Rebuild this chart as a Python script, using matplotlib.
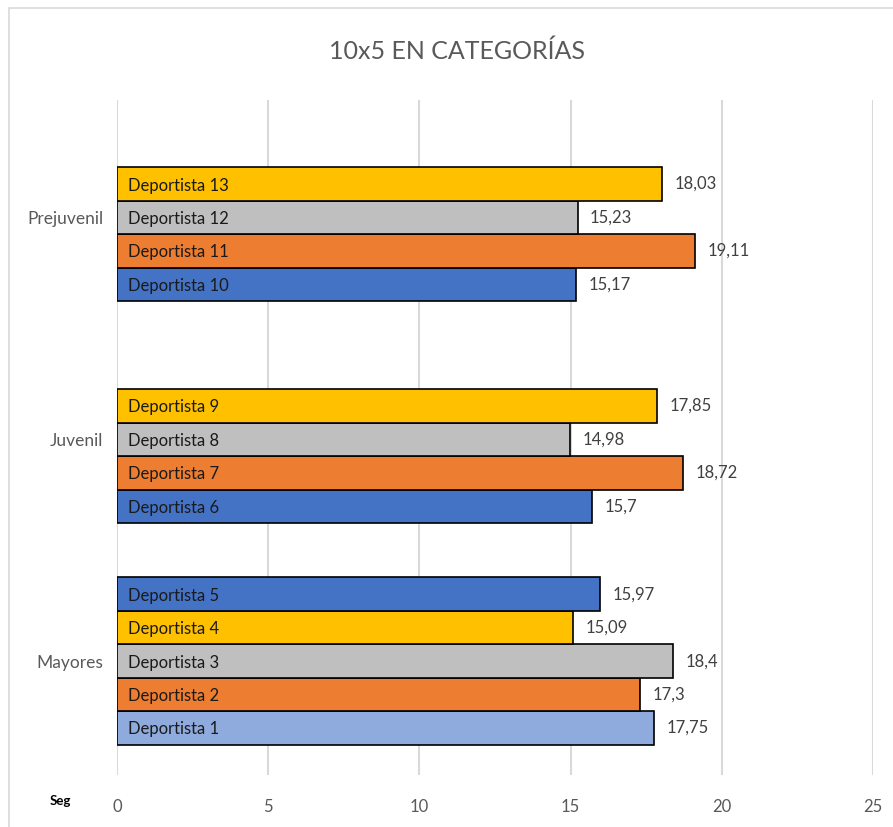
import matplotlib
matplotlib.use("Agg")
import matplotlib.pyplot as plt
from matplotlib.patches import Rectangle

plt.rcParams['font.family'] = ['Lato', 'DejaVu Sans']

categories = ['Mayores', 'Juvenil', 'Prejuvenil']

mayores_names = ['Deportista 1', 'Deportista 2', 'Deportista 3', 'Deportista 4', 'Deportista 5']
mayores_vals = [17.75, 17.3, 18.4, 15.09, 15.97]
mayores_cols = ['#8FAADC', '#ED7D31', '#BFBFBF', '#FFC000', '#4472C4']

juvenil_names = ['Deportista 6', 'Deportista 7', 'Deportista 8', 'Deportista 9']
juvenil_vals = [15.7, 18.72, 14.98, 17.85]
juvenil_cols = ['#4472C4', '#ED7D31', '#BFBFBF', '#FFC000']

prejuvenil_names = ['Deportista 10', 'Deportista 11', 'Deportista 12', 'Deportista 13']
prejuvenil_vals = [15.17, 19.11, 15.23, 18.03]
prejuvenil_cols = ['#4472C4', '#ED7D31', '#BFBFBF', '#FFC000']

xticks = [0, 5, 10, 15, 20, 25]

groups = [(mayores_names, mayores_vals, mayores_cols),
          (juvenil_names, juvenil_vals, juvenil_cols),
          (prejuvenil_names, prejuvenil_vals, prejuvenil_cols)]

fig = plt.figure(figsize=(8.93, 8.27), dpi=100)
ax = fig.add_axes([0.131, 0.063, 0.8466, 0.816])

h = 0.151
for gi, (names, vals, cols) in enumerate(groups):
    for k, (n, v, c) in enumerate(zip(names, vals, cols)):
        y = gi + (k - 2) * h
        ax.barh(y, v, height=h, color=c, edgecolor='black', linewidth=1.2, zorder=3)
        ax.annotate(n, (0, y), xytext=(8, -1), textcoords='offset points',
                    va='center', ha='left', fontsize=12, color='#1a1a1a', zorder=4)
        ax.annotate(str(v).replace('.', ','), (v, y), xytext=(9, 0), textcoords='offset points',
                    va='center', ha='left', fontsize=12, color='#404040', zorder=4)

ax.set_xlim(0, 25)
ax.set_ylim(-0.513, 2.53)
ax.set_xticks(xticks)
ax.set_yticks(range(len(categories)))
ax.set_yticklabels(categories, fontsize=12.5)
ax.tick_params(axis='both', length=0, labelsize=12, labelcolor='#595959')
ax.tick_params(axis='y', labelsize=12.5, pad=10)
ax.tick_params(axis='x', pad=17)
ax.grid(axis='x', color='#d9d9d9', linewidth=1.5, zorder=0)
for s in ax.spines.values():
    s.set_visible(False)

fig.text(0.512, 0.938, '10x5 EN CATEGORÍAS', ha='center', va='center',
         fontsize=18, color='#595959')
fig.text(0.067, 0.032, 'Seg', ha='center', va='center', fontsize=9.5,
         fontweight='bold', color='black')

fig.patches.append(Rectangle((0.010, -0.1), 1.1, 1.09, transform=fig.transFigure,
                             fill=False, edgecolor='#d9d9d9', linewidth=1.2))

fig.savefig('out.png', dpi=100)
